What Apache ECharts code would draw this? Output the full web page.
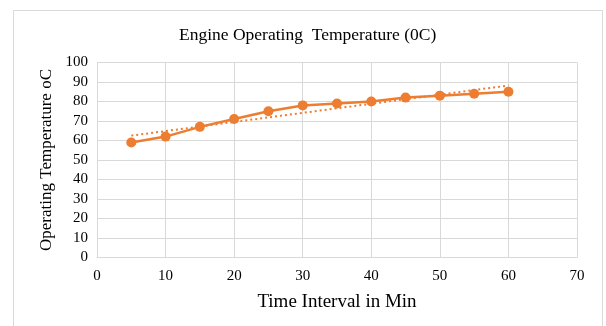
<!DOCTYPE html>
<html>
<head>
<meta charset="utf-8">
<script src="https://cdn.jsdelivr.net/npm/echarts@6/dist/echarts.min.js"></script>
<style>
html,body{margin:0;padding:0;background:#fff;}
#main{width:606px;height:326px;}
</style>
</head>
<body>
<div id="main"></div>
<script>
const titleText = 'Engine Operating  Temperature (0C)';
const xName = 'Time Interval in Min';
const yName = 'Operating Temperature oC';
const timeMin = [5, 10, 15, 20, 25, 30, 35, 40, 45, 50, 55, 60];
const tempC = [59, 62, 67, 71, 75, 78, 79, 80, 82, 83, 84, 85];
const trendX = [5, 60];
const trendY = [62.5, 88.2];

const color = '#ED7D31';
const gridColor = '#D9D9D9';
const font = "'Liberation Serif', 'Times New Roman', serif";

const chart = echarts.init(document.getElementById('main'));
chart.setOption({
  animation: false,
  backgroundColor: '#fff',
  textStyle: { fontFamily: font },
  graphic: [{
    type: 'rect',
    shape: { x: 13.5, y: 10.5, width: 589, height: 330 },
    style: { fill: 'none', stroke: gridColor, lineWidth: 1 },
    silent: true
  }],
  title: {
    text: titleText,
    left: 174,
    top: 21,
    textStyle: { fontFamily: font, fontSize: 17.5, fontWeight: 'normal', color: '#000' }
  },
  grid: { left: 97, right: 29, top: 62.5, bottom: 68.5, containLabel: false },
  xAxis: {
    type: 'value', min: 0, max: 70, interval: 10,
    name: xName, nameLocation: 'middle', nameGap: 35,
    nameTextStyle: { fontFamily: font, fontSize: 19, color: '#000' },
    axisLine: { show: true, lineStyle: { color: gridColor, width: 1 } },
    axisTick: { show: false },
    axisLabel: { fontFamily: font, fontSize: 15, color: '#000', margin: 11 },
    splitLine: { show: true, lineStyle: { color: gridColor, width: 1 } }
  },
  yAxis: {
    type: 'value', min: 0, max: 100, interval: 10,
    name: yName, nameLocation: 'middle', nameGap: 40, nameRotate: 90,
    nameTextStyle: { fontFamily: font, fontSize: 17, fontWeight: 'normal', color: '#000' },
    axisLine: { show: true, lineStyle: { color: gridColor, width: 1 } },
    axisTick: { show: false },
    axisLabel: { fontFamily: font, fontSize: 15, color: '#000', margin: 9 },
    splitLine: { show: true, lineStyle: { color: gridColor, width: 1 } }
  },
  series: [
    {
      type: 'line',
      data: timeMin.map((x, i) => [x, tempC[i]]),
      symbol: 'circle', symbolSize: 10,
      lineStyle: { color: color, width: 2.5 },
      itemStyle: { color: color },
      z: 3
    },
    {
      type: 'line',
      data: trendX.map((x, i) => [x, trendY[i]]),
      symbol: 'none',
      lineStyle: { color: color, width: 2, type: [2, 3] },
      z: 2
    }
  ]
});
</script>
</body>
</html>
